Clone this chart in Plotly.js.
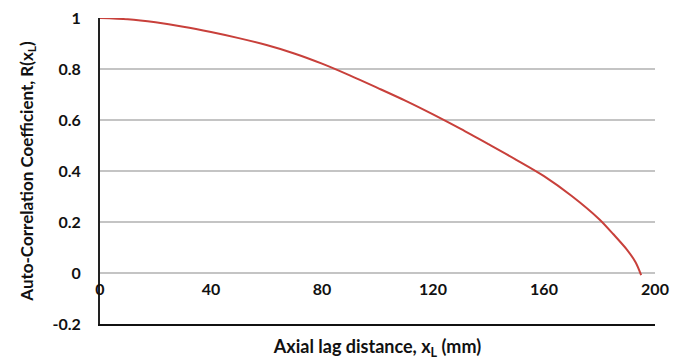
<!DOCTYPE html>
<html>
<head>
<meta charset="utf-8">
<script src="https://cdn.plot.ly/plotly-3.0.1.min.js"></script>
<style>html,body{margin:0;padding:0;background:#fff;}#chart{width:685px;height:360px;}</style>
</head>
<body>
<div id="chart"></div>
<script>
const lagDistance = [0, 10, 20, 30, 40, 50, 60, 70, 80, 90, 100, 110, 120, 130, 140, 150, 160, 170, 180, 185, 190, 193, 195];
const autoCorrelation = [1.0, 0.995, 0.983, 0.966, 0.945, 0.921, 0.894, 0.861, 0.821, 0.775, 0.726, 0.676, 0.622, 0.565, 0.505, 0.444, 0.380, 0.302, 0.210, 0.152, 0.090, 0.042, -0.008];
const xTicks = [0, 40, 80, 120, 160, 200];
const yTicks = [-0.2, 0, 0.2, 0.4, 0.6, 0.8, 1];
const yTickLabels = ['-0.2', '0', '0.2', '0.4', '0.6', '0.8', '1'];

const font = {family: 'Lato, "Open Sans", sans-serif', size: 16, color: '#111', weight: 700};
const xTitleFont = Object.assign({}, font, {size: 18});
const yTitleFont = Object.assign({}, font, {size: 17});

const trace = {
  x: lagDistance, y: autoCorrelation, type: 'scatter', mode: 'lines',
  line: {color: '#c8403b', width: 2, shape: 'spline', smoothing: 0.8},
  hoverinfo: 'skip'
};
const axisTrace = {x: [0, 200], y: [-0.2, -0.2], xaxis: 'x2', yaxis: 'y', mode: 'none', type: 'scatter', hoverinfo: 'skip', showlegend: false};

const layout = {
  width: 685, height: 360,
  margin: {l: 100, r: 30, t: 18, b: 36},
  paper_bgcolor: '#fff', plot_bgcolor: '#fff',
  showlegend: false,
  font: font,
  xaxis: {
    range: [0, 200], tickvals: xTicks, ticktext: xTicks.map(String),
    anchor: 'free', position: 0.2/1.2,
    showgrid: false, zeroline: false, showline: false, ticks: '',
    ticklabelstandoff: 5,
    tickfont: font
  },
  xaxis2: {
    range: [0, 200], overlaying: 'x', anchor: 'y', side: 'bottom',
    showgrid: false, zeroline: false, showline: true, linecolor: '#111', linewidth: 2,
    showticklabels: false, ticks: '',
    title: {text: 'Axial lag distance, x<sub>L</sub> (mm)', font: xTitleFont, standoff: 16}
  },
  yaxis: {
    range: [-0.2, 1], tickvals: yTicks, ticktext: yTickLabels,
    showgrid: true, gridcolor: '#c4c4c4', gridwidth: 1.5,
    zeroline: false, showline: true, linecolor: '#222', linewidth: 2,
    ticks: '', ticklabelstandoff: 14, tickfont: font,
    title: {text: 'Auto-Correlation Coefficient, R(x<sub>L</sub>)', font: yTitleFont, standoff: 15}
  }
};

Plotly.newPlot('chart', [trace, axisTrace], layout, {displayModeBar: false, staticPlot: true});
</script>
</body>
</html>
